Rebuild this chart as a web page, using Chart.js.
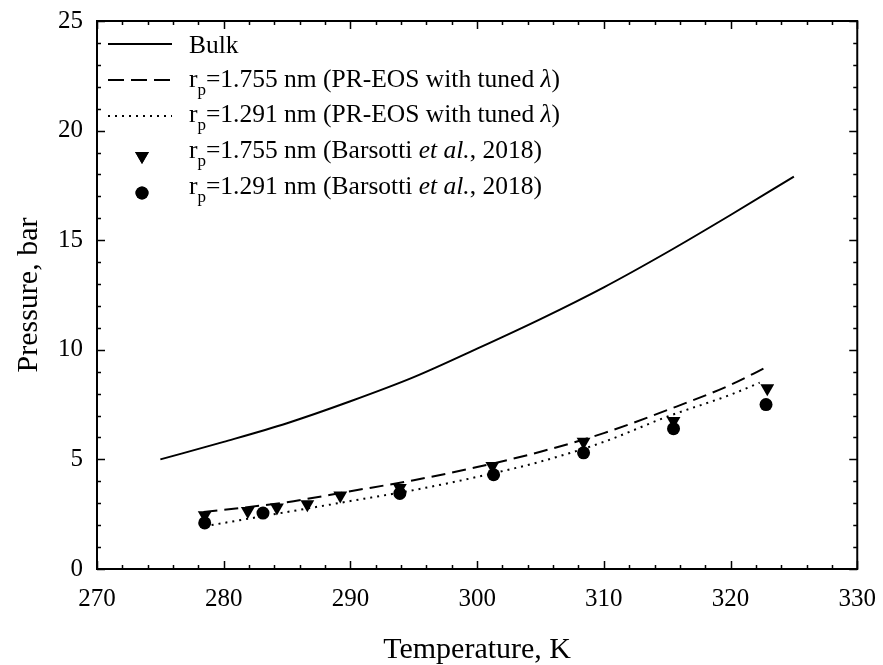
<!DOCTYPE html>
<html>
<head>
<meta charset="utf-8">
<script src="https://cdn.jsdelivr.net/npm/chart.js@4.4.0/dist/chart.umd.min.js"></script>
<style>
  html, body { margin: 0; padding: 0; background: #fff; }
  #wrap { width: 883px; height: 665px; }
</style>
</head>
<body>
<div id="wrap"><canvas id="chart" width="883" height="665"></canvas></div>
<script>
// Bulk vapour pressure curve
const bulkT = [275, 280, 285, 290, 295, 300, 305, 310, 315, 320, 325];
const bulkP = [5.0, 5.8, 6.65, 7.65, 8.75, 10.05, 11.4, 12.85, 14.45, 16.15, 17.9];

// PR-EOS with tuned lambda, rp = 1.755 nm (dashed)
const pr1755T = [278.4, 285, 290, 295, 300, 305, 310, 315, 320, 322.8];
const pr1755P = [2.6, 3.05, 3.55, 4.05, 4.65, 5.35, 6.2, 7.25, 8.4, 9.2];

// PR-EOS with tuned lambda, rp = 1.291 nm (dotted)
const pr1291T = [278.5, 285, 290, 295, 300, 305, 310, 315, 320, 322.3];
const pr1291P = [1.95, 2.6, 3.1, 3.6, 4.2, 4.9, 5.8, 6.95, 7.95, 8.5];

// Barsotti et al. 2018 points
const bar1755T = [278.5, 281.9, 284.2, 286.6, 289.2, 293.9, 301.2, 308.4, 315.5, 322.9];
const bar1755P = [2.45, 2.65, 2.8, 2.95, 3.35, 3.7, 4.7, 5.8, 6.75, 8.25];
const bar1291T = [278.5, 283.1, 293.9, 301.3, 308.4, 315.5, 322.8];
const bar1291P = [2.1, 2.55, 3.45, 4.3, 5.3, 6.4, 7.5];

const xTicks = [270, 280, 290, 300, 310, 320, 330];
const yTicks = [0, 5, 10, 15, 20, 25];

const FONT = '"Liberation Serif", "Times New Roman", serif';

const pts = (xs, ys) => xs.map((x, i) => ({ x: x, y: ys[i] }));

// legend rows: segments of text (n = normal, s = subscript, i = italic)
const legendRows = [
    [['n', 'Bulk']],
    [['n', 'r'], ['s', 'p'], ['n', '=1.755 nm (PR-EOS with tuned '], ['i', 'λ'], ['n', ')']],
    [['n', 'r'], ['s', 'p'], ['n', '=1.291 nm (PR-EOS with tuned '], ['i', 'λ'], ['n', ')']],
    [['n', 'r'], ['s', 'p'], ['n', '=1.755 nm (Barsotti '], ['i', 'et al.'], ['n', ', 2018)']],
    [['n', 'r'], ['s', 'p'], ['n', '=1.291 nm (Barsotti '], ['i', 'et al.'], ['n', ', 2018)']]
];

// inward ticks on all four sides + frame
const framePlugin = {
    id: 'frame',
    afterDraw(chart) {
        const ctx = chart.ctx;
        const a = chart.chartArea;
        const xs = chart.scales.x, ys = chart.scales.y;
        ctx.save();
        ctx.strokeStyle = '#000';
        ctx.lineWidth = 1.5;
        ctx.beginPath();
        for (let v = 270; v <= 330; v += 2) {
            const px = Math.round(xs.getPixelForValue(v)) + 0.5;
            const len = v % 10 === 0 ? 8 : 4;
            ctx.moveTo(px, a.bottom); ctx.lineTo(px, a.bottom - len);
            ctx.moveTo(px, a.top); ctx.lineTo(px, a.top + len);
        }
        for (let v = 0; v <= 25; v += 1) {
            const py = Math.round(ys.getPixelForValue(v)) + 0.5;
            const len = v % 5 === 0 ? 8 : 4;
            ctx.moveTo(a.left, py); ctx.lineTo(a.left + len, py);
            ctx.moveTo(a.right, py); ctx.lineTo(a.right - len, py);
        }
        ctx.stroke();
        ctx.lineWidth = 2;
        ctx.strokeRect(a.left, a.top, a.right - a.left, a.bottom - a.top);
        ctx.restore();
    }
};

const legendPlugin = {
    id: 'richLegend',
    afterDraw(chart) {
        const ctx = chart.ctx;
        const rowY = [46, 80, 115, 151, 187];
        const textX = 189;
        ctx.save();
        ctx.fillStyle = '#000';
        ctx.strokeStyle = '#000';
        ctx.textBaseline = 'middle';
        legendRows.forEach((row, r) => {
            let x = textX;
            const y = rowY[r];
            row.forEach(([kind, t]) => {
                if (kind === 's') {
                    ctx.font = '17px ' + FONT;
                    ctx.fillText(t, x, y + 11);
                } else {
                    ctx.font = (kind === 'i' ? 'italic ' : '') + '25.5px ' + FONT;
                    ctx.fillText(t, x, y);
                }
                x += ctx.measureText(t).width;
            });
        });
        // samples
        ctx.lineWidth = 2;
        const lineY = [44, 80, 116];
        const dashes = [[], [16, 7], [2, 5]];
        lineY.forEach((y, i) => {
            ctx.setLineDash(dashes[i]);
            ctx.beginPath();
            ctx.moveTo(108, y); ctx.lineTo(172, y);
            ctx.stroke();
        });
        ctx.setLineDash([]);
        Chart.helpers.drawPoint(ctx, { pointStyle: 'triangle', rotation: 180, radius: 8, borderWidth: 0 }, 142, 156);
        ctx.fill();
        Chart.helpers.drawPoint(ctx, { pointStyle: 'circle', rotation: 0, radius: 6.5, borderWidth: 0 }, 142, 193);
        ctx.fill();
        ctx.restore();
    }
};

new Chart(document.getElementById('chart'), {
    type: 'scatter',
    data: {
        datasets: [
            {
                label: 'Bulk',
                data: pts(bulkT, bulkP),
                showLine: true,
                borderColor: '#000',
                borderWidth: 2,
                pointRadius: 0,
                cubicInterpolationMode: 'monotone'
            },
            {
                label: 'rp=1.755 nm (PR-EOS)',
                data: pts(pr1755T, pr1755P),
                showLine: true,
                borderColor: '#000',
                borderWidth: 2,
                borderDash: [14, 7],
                pointRadius: 0,
                cubicInterpolationMode: 'monotone'
            },
            {
                label: 'rp=1.291 nm (PR-EOS)',
                data: pts(pr1291T, pr1291P),
                showLine: true,
                borderColor: '#000',
                borderWidth: 2,
                borderDash: [2, 5],
                pointRadius: 0,
                cubicInterpolationMode: 'monotone'
            },
            {
                label: 'rp=1.755 nm (Barsotti)',
                data: pts(bar1755T, bar1755P),
                showLine: false,
                pointStyle: 'triangle',
                rotation: 180,
                pointRadius: 8,
                pointBorderWidth: 0,
                backgroundColor: '#000',
                borderColor: '#000'
            },
            {
                label: 'rp=1.291 nm (Barsotti)',
                data: pts(bar1291T, bar1291P),
                showLine: false,
                pointStyle: 'circle',
                pointRadius: 6.5,
                pointBorderWidth: 0,
                backgroundColor: '#000',
                borderColor: '#000'
            }
        ]
    },
    options: {
        responsive: false,
        animation: false,
        layout: { padding: { top: 14, right: 15, left: 0, bottom: 0 } },
        plugins: {
            legend: { display: false },
            tooltip: { enabled: false }
        },
        scales: {
            x: {
                type: 'linear',
                min: 270,
                max: 330,
                afterBuildTicks: (s) => { s.ticks = xTicks.map(v => ({ value: v })); },
                afterFit: (s) => { s.height = 96; },
                grid: { display: false },
                border: { display: false },
                ticks: {
                    color: '#000',
                    padding: 7,
                    font: { family: FONT, size: 25 }
                },
                title: {
                    display: true,
                    text: 'Temperature, K',
                    color: '#000',
                    font: { family: FONT, size: 30 },
                    padding: { top: 13, bottom: -3 }
                }
            },
            y: {
                min: 0,
                max: 25,
                afterBuildTicks: (s) => { s.ticks = yTicks.map(v => ({ value: v })); },
                afterFit: (s) => { s.width = 97; },
                grid: { display: false },
                border: { display: false },
                ticks: {
                    color: '#000',
                    padding: 6,
                    font: { family: FONT, size: 25 }
                },
                title: {
                    display: true,
                    text: 'Pressure, bar',
                    color: '#000',
                    font: { family: FONT, size: 30 },
                    padding: { top: 11, bottom: 4 }
                }
            }
        }
    },
    plugins: [framePlugin, legendPlugin]
});
</script>
</body>
</html>
